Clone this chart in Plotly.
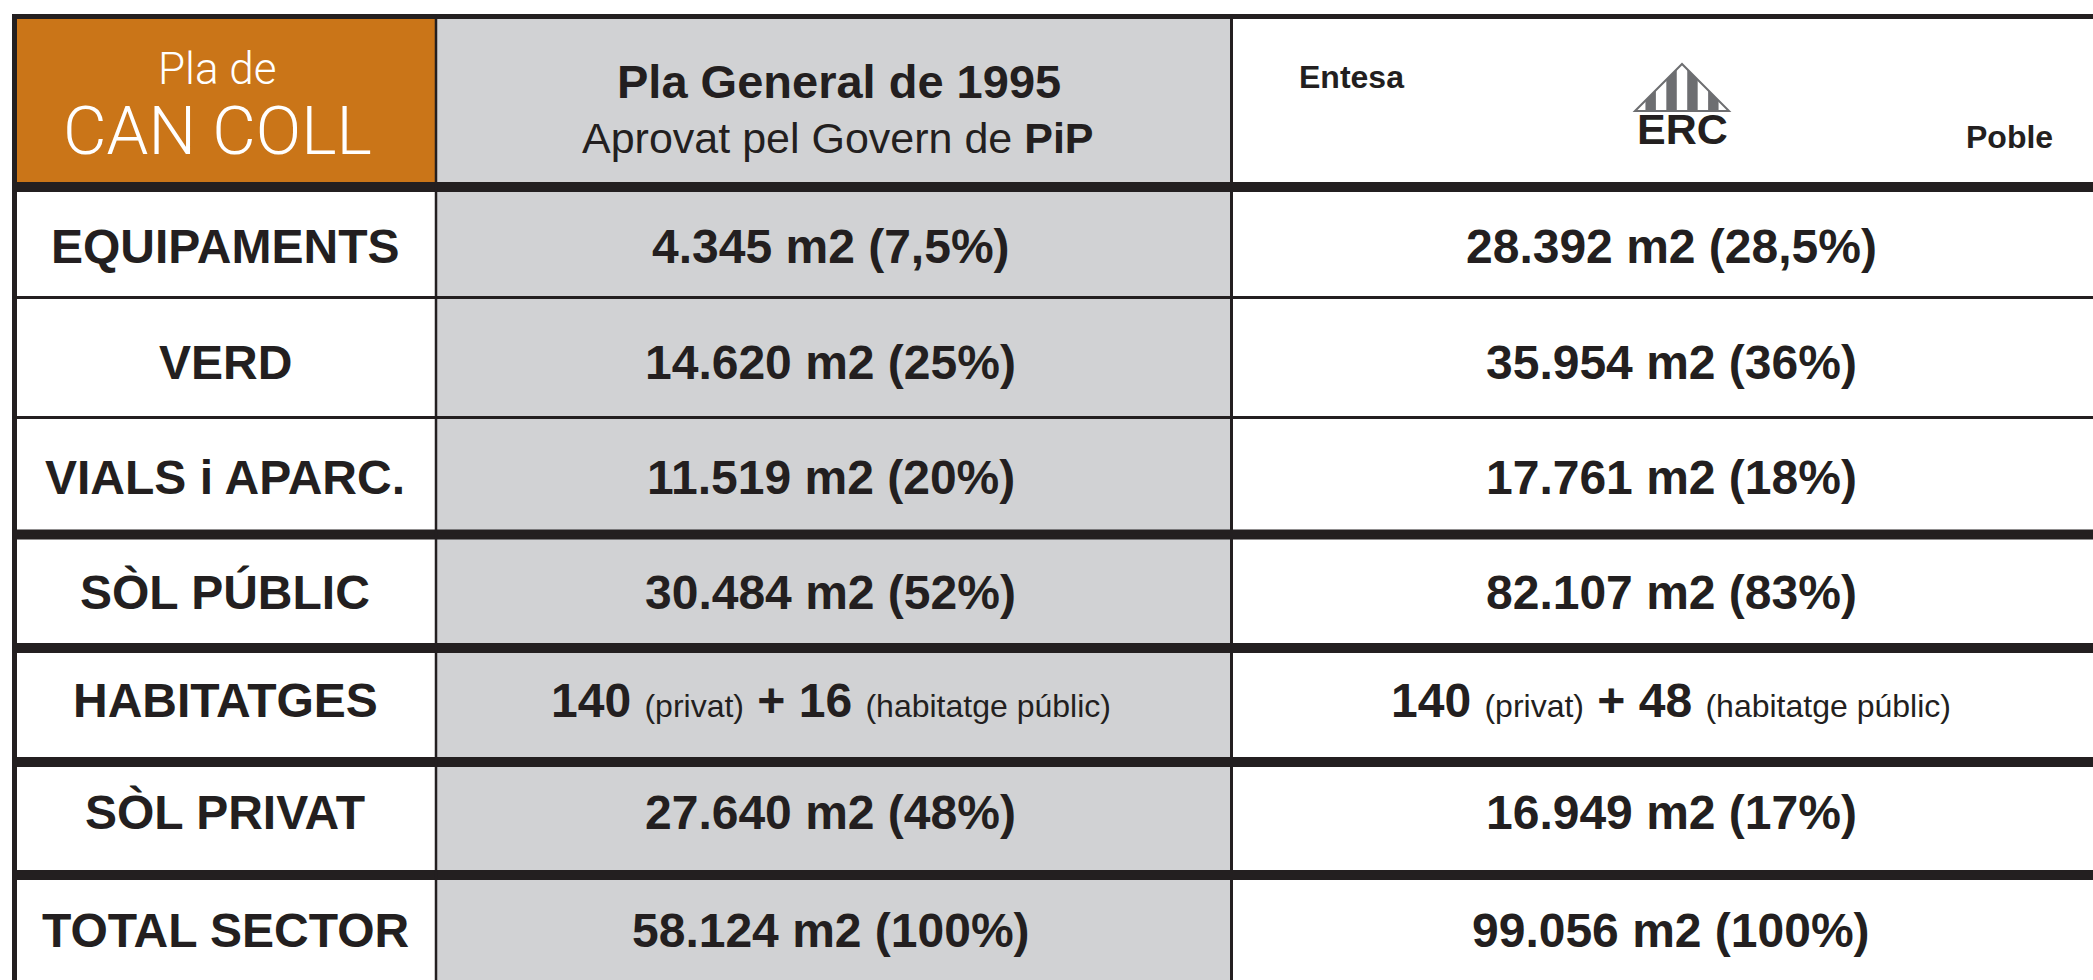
import plotly.graph_objects as go

# ---------------- data ----------------
categories = ["EQUIPAMENTS", "VERD", "VIALS i APARC.", "SÒL PÚBLIC",
              "HABITATGES", "SÒL PRIVAT", "TOTAL SECTOR"]
pla1995_m2 = [4345, 14620, 11519, 30484, None, 27640, 58124]
pla1995_pct = ["7,5", "25", "20", "52", None, "48", "100"]
erc_m2 = [28392, 35954, 17761, 82107, None, 16949, 99056]
erc_pct = ["28,5", "36", "18", "83", None, "17", "100"]
habitatges_1995 = [140, 16]
habitatges_erc = [140, 48]

header_left = ["Pla de", "CAN COLL"]
header_mid = ["Pla General de 1995", "Aprovat pel Govern de", "PiP"]
header_right = ["Entesa", "ERC", "Poble"]

# ---------------- layout geometry (pixels) ----------------
W, H = 2093, 980
FONT = "Liberation Sans, Arial, Helvetica, sans-serif"
INK = "#231F20"
ORANGE = "#CA7518"
GREY = "#D1D2D4"

x_left, x_c1, x_c2, x_right = 14.5, 436, 1231.5, 2111
y_top, y_head = 16.5, 187
# row separator lines and whether thick
row_lines = [297.5, 417.5, 534.5, 648, 762, 875]
row_thick = [False, False, True, True, True, True]
y_bottom = 990
# vertical position of the text in each row
row_text_y = [246, 362, 477, 592, 700, 812, 930]

def fmt(n):
    return f"{n:,}".replace(",", ".")

fig = go.Figure()
fig.add_trace(go.Scatter(x=[0, W], y=[0, H], mode="markers",
                         marker=dict(opacity=0), hoverinfo="skip", showlegend=False))

shapes = []
# fills
shapes.append(dict(type="rect", x0=x_left, x1=x_c1, y0=y_top, y1=y_head,
                   fillcolor=ORANGE, line_width=0, layer="below"))
shapes.append(dict(type="rect", x0=x_c1, x1=x_c2, y0=y_top, y1=y_bottom,
                   fillcolor=GREY, line_width=0, layer="below"))

# horizontal lines
shapes.append(dict(type="line", x0=x_left - 2.5, x1=x_right, y0=y_top, y1=y_top,
                   line=dict(color=INK, width=5)))
shapes.append(dict(type="line", x0=x_left - 2.5, x1=x_right, y0=y_head, y1=y_head,
                   line=dict(color=INK, width=10)))
for yl, thick in zip(row_lines, row_thick):
    shapes.append(dict(type="line", x0=x_left, x1=x_right, y0=yl, y1=yl,
                       line=dict(color=INK, width=10 if thick else 3)))
# vertical lines
shapes.append(dict(type="line", x0=x_left, x1=x_left, y0=y_top - 2.5, y1=y_bottom,
                   line=dict(color=INK, width=5)))
shapes.append(dict(type="line", x0=x_c1, x1=x_c1, y0=y_top, y1=y_bottom,
                   line=dict(color=INK, width=2.5)))
shapes.append(dict(type="line", x0=x_c2, x1=x_c2, y0=y_top, y1=y_bottom,
                   line=dict(color=INK, width=3)))

# ERC logo: striped triangle
apex_x, apex_y, base_y, half = 1682, 64, 111, 47
LOGO_GREY = "#6D6E71"
nb = 9

def ytop(x):
    return apex_y + (base_y - apex_y) * abs(x - apex_x) / half

for i in range(nb):
    if i % 2 == 1:
        xa = apex_x - half + i * 2 * half / nb
        xb = xa + 2 * half / nb
        pts = [(xa, base_y), (xa, ytop(xa))]
        if xa < apex_x < xb:
            pts.append((apex_x, apex_y))
        pts += [(xb, ytop(xb)), (xb, base_y)]
        path = "M " + " L ".join(f"{px:.2f},{py:.2f}" for px, py in pts) + " Z"
        shapes.append(dict(type="path", path=path, fillcolor=LOGO_GREY, line_width=0))
shapes.append(dict(type="path",
                   path=f"M {apex_x - half},{base_y} L {apex_x},{apex_y} L {apex_x + half},{base_y} Z",
                   fillcolor="rgba(0,0,0,0)", line=dict(color=LOGO_GREY, width=2)))

annotations = []

def ann(x, y, text, size, color=INK, family=FONT, weight=None, xanchor="center"):
    f = dict(family=family, size=size, color=color)
    if weight is not None:
        f["weight"] = weight
    annotations.append(dict(x=x, y=y, xref="x", yref="y", text=text, showarrow=False,
                            xanchor=xanchor, yanchor="middle", font=f))

# header texts
ann(217, 69, header_left[0], 44, color="white", family="Roboto, Liberation Sans", weight=300)
ann(217, 131, header_left[1], 67, color="white", family="Roboto, Liberation Sans", weight=300)
ann(839, 81, f"<b>{header_mid[0]}</b>", 47)
ann(838, 138, f"{header_mid[1]} <b>{header_mid[2]}</b>", 43)
ann(1297, 77, f"<b>{header_right[0]}</b>", 32, xanchor="left")
ann(1682, 129, header_right[1], 43, weight=900)
ann(1964, 137, f"<b>{header_right[2]}</b>", 32, xanchor="left")

# rows
xc1 = (x_left + x_c1) / 2
xc2 = (x_c1 + x_c2) / 2 - 3
xc3 = (x_c2 + x_right) / 2
small = "<span style='font-size:32px'>"
for i, cat in enumerate(categories):
    yc = row_text_y[i]
    ann(xc1, yc, f"<b>{cat}</b>", 48)
    if pla1995_m2[i] is not None:
        ann(xc2, yc, f"<b>{fmt(pla1995_m2[i])} m2 ({pla1995_pct[i]}%)</b>", 48)
        ann(xc3, yc, f"<b>{fmt(erc_m2[i])} m2 ({erc_pct[i]}%)</b>", 48)
    else:
        t1 = (f"<b>{habitatges_1995[0]}</b> {small}(privat)</span> <b>+ {habitatges_1995[1]}</b> "
              f"{small}(habitatge públic)</span>")
        t2 = (f"<b>{habitatges_erc[0]}</b> {small}(privat)</span> <b>+ {habitatges_erc[1]}</b> "
              f"{small}(habitatge públic)</span>")
        ann(xc2, yc, t1, 48)
        ann(xc3, yc, t2, 48)

fig.update_layout(
    width=W, height=H, margin=dict(l=0, r=0, t=0, b=0),
    paper_bgcolor="white", plot_bgcolor="white",
    xaxis=dict(range=[0, W], visible=False, fixedrange=True),
    yaxis=dict(range=[H, 0], visible=False, fixedrange=True),
    shapes=shapes, annotations=annotations, showlegend=False,
)
fig.write_html("out.html", config={"displayModeBar": False},
               post_script="document.body.style.margin='0px';document.body.style.overflow='hidden';")
